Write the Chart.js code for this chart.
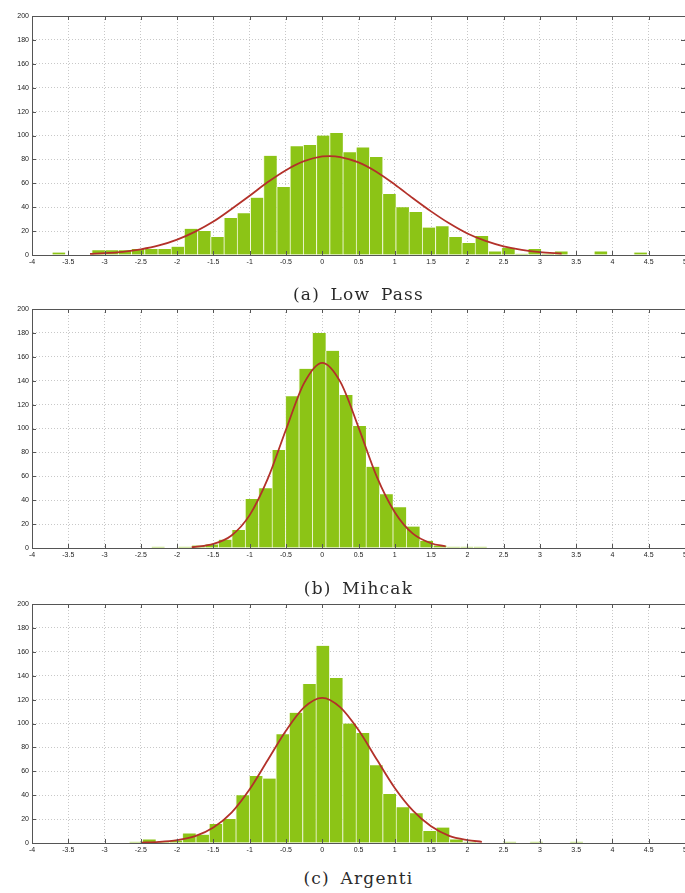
<!DOCTYPE html>
<html>
<head>
<meta charset="utf-8">
<script src="https://cdn.jsdelivr.net/npm/chart.js@4.4.1/dist/chart.umd.min.js"></script>
<style>
  html, body { margin: 0; padding: 0; background: #fff; width: 685px; height: 893px; overflow: hidden; }
  .panel { position: absolute; left: 0; width: 700px; height: 275px; }
  .caption { position: absolute; left: 32px; width: 653px; text-align: center; font-family: "DejaVu Serif", serif;
             font-size: 17px; line-height: 20px; letter-spacing: 1.2px; word-spacing: 4px; color: #2a2a2a; z-index: 2; }
</style>
</head>
<body>
<div class="panel" style="top:0px"><canvas id="lowPass" width="700" height="275"></canvas></div>
<div class="caption" style="top:284px">(a) Low Pass</div>
<div class="panel" style="top:293px"><canvas id="mihcak" width="700" height="275"></canvas></div>
<div class="caption" style="top:578px">(b) Mihcak</div>
<div class="panel" style="top:588px"><canvas id="argenti" width="700" height="275"></canvas></div>
<div class="caption" style="top:868px">(c) Argenti</div>

<script>
// (a) Low Pass - histogram bin centres and counts
var lowPassCenters = [-3.633, -3.451, -3.269, -3.086, -2.904, -2.722, -2.540, -2.358, -2.175, -1.993,
  -1.811, -1.629, -1.447, -1.264, -1.082, -0.900, -0.718, -0.536, -0.353, -0.171,
  0.011, 0.193, 0.375, 0.558, 0.740, 0.922, 1.104, 1.286, 1.469, 1.651,
  1.833, 2.015, 2.197, 2.380, 2.562, 2.744, 2.926, 3.108, 3.291, 3.473,
  3.655, 3.837, 4.019, 4.202, 4.384];
var lowPassCounts = [2, 0, 0, 4, 4, 4, 5, 5, 5, 7,
  22, 20, 15, 31, 35, 48, 83, 57, 91, 92,
  100, 102, 86, 90, 82, 51, 40, 36, 23, 24,
  15, 10, 16, 3, 6, 1, 5, 1, 3, 0,
  0, 3, 0, 0, 2];
var lowPassFitX = [-3.2, -3, -2.75, -2.5, -2.25, -2, -1.75, -1.5, -1.25, -1, -0.75, -0.5, -0.25, 0, 0.1,
  0.25, 0.5, 0.75, 1, 1.25, 1.5, 1.75, 2, 2.25, 2.5, 2.75, 3, 3.3];
var lowPassFitY = [0.9, 1.5, 2.7, 4.8, 8, 12.9, 19.6, 28, 38.5, 49.5, 61, 71, 78.5, 82.5, 82.8,
  82, 77.5, 69.5, 59, 47.5, 36.5, 26.5, 18, 11.8, 7.3, 4.3, 2.4, 1.1];

// (b) Mihcak
var mihcakCenters = [-2.265, -2.080, -1.895, -1.710, -1.525, -1.340, -1.155, -0.970, -0.785, -0.600,
  -0.415, -0.230, -0.045, 0.140, 0.325, 0.510, 0.695, 0.880, 1.065, 1.250,
  1.435, 1.620, 1.805, 1.990, 2.175];
var mihcakCounts = [1, 0, 1, 2, 3, 7, 15, 41, 50, 82,
  127, 150, 180, 165, 128, 102, 68, 45, 34, 18,
  6, 2, 1, 1, 1];
var mihcakFitX = [-1.8, -1.75, -1.5, -1.25, -1, -0.75, -0.5, -0.25, 0, 0.25, 0.5, 0.75, 1, 1.25, 1.5, 1.7];
var mihcakFitY = [0.6, 0.9, 3.4, 10.5, 27.5, 58, 99, 138, 155, 139, 101, 60, 30, 12, 4, 1.4];

// (c) Argenti
var argentiCenters = [-2.571, -2.387, -2.203, -2.019, -1.835, -1.651, -1.467, -1.283, -1.099, -0.915,
  -0.731, -0.547, -0.363, -0.179, 0.005, 0.189, 0.373, 0.557, 0.741, 0.925,
  1.109, 1.293, 1.477, 1.661, 1.845, 2.029, 2.213, 2.397, 2.581, 2.765,
  2.949, 3.133, 3.317, 3.501];
var argentiCounts = [1, 3, 1, 2, 8, 7, 16, 20, 40, 56,
  54, 91, 109, 133, 165, 138, 100, 92, 65, 41,
  30, 25, 10, 13, 3, 1, 0, 0, 1, 0,
  1, 0, 0, 1];
var argentiFitX = [-2.5, -2.25, -2, -1.75, -1.5, -1.25, -1, -0.75, -0.5, -0.25, 0, 0.25, 0.5, 0.75, 1, 1.25, 1.5, 1.75, 2, 2.2];
var argentiFitY = [0.3, 0.9, 2.4, 5.8, 13, 25.5, 45, 69.5, 94, 113.5, 121.5, 113.5, 94.5, 70, 46, 27, 14, 6, 2.5, 1];

// axis ticks
var xTickMin = -4, xTickMax = 5, xTickStep = 0.5;
var yTickMin = 0, yTickMax = 200, yTickStep = 20;

var tickFont = { family: "'Liberation Sans', Arial, sans-serif", size: 7 };

// MATLAB style box with ticks pointing inwards
var boxTicks = {
  id: 'boxTicks',
  afterDatasetsDraw: function (chart) {
    var ctx = chart.ctx, a = chart.chartArea, xs = chart.scales.x, ys = chart.scales.y;
    ctx.save();
    ctx.strokeStyle = '#555';
    ctx.lineWidth = 1;
    ctx.beginPath();
    xs.ticks.forEach(function (t) {
      var px = Math.round(xs.getPixelForValue(t.value)) + 0.5;
      ctx.moveTo(px, a.bottom); ctx.lineTo(px, a.bottom - 4);
      ctx.moveTo(px, a.top); ctx.lineTo(px, a.top + 4);
    });
    ys.ticks.forEach(function (t) {
      var py = Math.round(ys.getPixelForValue(t.value)) + 0.5;
      ctx.moveTo(a.left, py); ctx.lineTo(a.left + 4, py);
      ctx.moveTo(a.right, py); ctx.lineTo(a.right - 4, py);
    });
    ctx.stroke();
    ctx.strokeRect(Math.round(a.left) + 0.5, Math.round(a.top) + 0.5, Math.round(a.width), Math.round(a.height));
    ctx.restore();
  }
};

function makeHist(id, centers, counts, fitX, fitY) {
  var bars = centers.map(function (c, i) { return { x: c, y: counts[i] }; });
  var fit = fitX.map(function (x, i) { return { x: x, y: fitY[i] }; });
  new Chart(document.getElementById(id), {
    type: 'bar',
    data: {
      datasets: [
        {
          type: 'line', data: fit, borderColor: '#b3312a', borderWidth: 1.8,
          pointRadius: 0, cubicInterpolationMode: 'monotone', fill: false, order: 0
        },
        {
          type: 'bar', data: bars, backgroundColor: '#8cc416', borderColor: '#f3f9dc',
          borderWidth: { left: 1, right: 0, top: 0, bottom: 0 }, borderSkipped: false,
          barPercentage: 1, categoryPercentage: 1, order: 1
        }
      ]
    },
    options: {
      responsive: false,
      animation: false,
      layout: { padding: { top: 16, right: 15, left: 0, bottom: 0 } },
      plugins: { legend: { display: false }, tooltip: { enabled: false } },
      scales: {
        x: {
          type: 'linear', min: xTickMin, max: xTickMax, offset: false,
          ticks: {
            stepSize: xTickStep, autoSkip: false, maxRotation: 0, padding: 3,
            font: tickFont, color: '#222', callback: function (v) { return String(v); }
          },
          grid: { color: '#c8c8c8', drawTicks: false, offset: false },
          border: { display: true, color: '#555', dash: [1, 2] },
          afterFit: function (s) { s.height = 20; }
        },
        y: {
          min: yTickMin, max: yTickMax,
          ticks: { stepSize: yTickStep, padding: 3, font: tickFont, color: '#222' },
          grid: { color: '#c8c8c8', drawTicks: false },
          border: { display: true, color: '#555', dash: [1, 2] },
          afterFit: function (s) { s.width = 32; }
        }
      }
    },
    plugins: [boxTicks]
  });
}

makeHist('lowPass', lowPassCenters, lowPassCounts, lowPassFitX, lowPassFitY);
makeHist('mihcak', mihcakCenters, mihcakCounts, mihcakFitX, mihcakFitY);
makeHist('argenti', argentiCenters, argentiCounts, argentiFitX, argentiFitY);
</script>
</body>
</html>
